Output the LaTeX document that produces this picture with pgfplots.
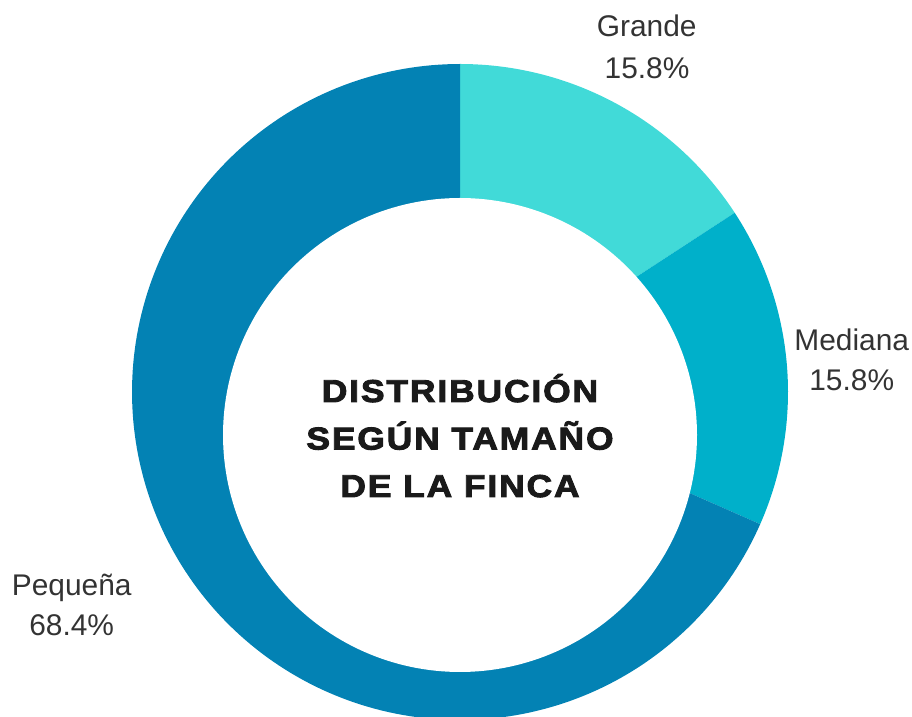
\documentclass[border=0pt]{standalone}
\usepackage{pgfplots}
\pgfplotsset{compat=1.18}
\usepackage{pgfplotstable}
\usepackage{fontspec}
\setmainfont{Liberation Sans}
\newfontfamily\titlefont{Liberation Sans Bold}[LetterSpace=6,FakeBold=3,FakeStretch=1.12]
\definecolor{cG}{HTML}{41DAD8}
\definecolor{cM}{HTML}{00B0CA}
\definecolor{cP}{HTML}{0382B4}
\definecolor{txt}{HTML}{333333}
\definecolor{ttl}{HTML}{1A1A1A}
\pgfplotstableread{
name value
Grande 15.8
Mediana 15.8
Pequena 68.4
}\slicedata
\pgfplotstablegetelem{0}{value}\of\slicedata \pgfmathsetmacro\vA{\pgfplotsretval}
\pgfplotstablegetelem{1}{value}\of\slicedata \pgfmathsetmacro\vB{\pgfplotsretval}
\pgfplotstablegetelem{2}{value}\of\slicedata \pgfmathsetmacro\vC{\pgfplotsretval}
\pgfmathsetmacro\sA{90}
\pgfmathsetmacro\eA{\sA-3.6*\vA}
\pgfmathsetmacro\eB{\eA-3.6*\vB}
\pgfmathsetmacro\eC{\eB-3.6*\vC}
\begin{document}
\begin{tikzpicture}
\begin{axis}[hide axis, scale only axis, width=912bp, height=717bp,
  xmin=0, xmax=912, ymin=0, ymax=717, clip=true]
\addplot[fill=cG, draw=none, variable=\t, samples at={0,1,...,101}]
  ({\t>100.5 ? 460 : 460+328*cos(\sA+(\eA-\sA)*\t/100)},
   {\t>100.5 ? 325 : 325+328*sin(\sA+(\eA-\sA)*\t/100)});
\addplot[fill=cM, draw=none, variable=\t, samples at={0,1,...,101}]
  ({\t>100.5 ? 460 : 460+328*cos(\eA+(\eB-\eA)*\t/100)},
   {\t>100.5 ? 325 : 325+328*sin(\eA+(\eB-\eA)*\t/100)});
\addplot[fill=cP, draw=none, variable=\t, samples at={0,1,...,201}]
  ({\t>200.5 ? 460 : 460+328*cos(\eB+(\eC-\eB)*\t/200)},
   {\t>200.5 ? 325 : 325+328*sin(\eB+(\eC-\eB)*\t/200)});
\addplot[fill=white, draw=none, variable=\t, domain=0:360, samples=241]
  ({460+237*cos(\t)},{282+237*sin(\t)});
\node[anchor=base, font=\fontsize{30}{35}\selectfont, text=txt] at (axis cs:646.7,680.3) {Grande};
\node[anchor=base, font=\fontsize{30}{35}\selectfont, text=txt] at (axis cs:647,638) {15.8\%};
\node[anchor=base, font=\fontsize{30}{35}\selectfont, text=txt] at (axis cs:851.7,366.3) {Mediana};
\node[anchor=base, font=\fontsize{30}{35}\selectfont, text=txt] at (axis cs:851.7,326) {15.8\%};
\node[anchor=base, font=\fontsize{30}{35}\selectfont, text=txt] at (axis cs:71.7,121) {Pequeña};
\node[anchor=base, font=\fontsize{30}{35}\selectfont, text=txt] at (axis cs:71.7,81) {68.4\%};
\node[anchor=base, font=\titlefont\fontsize{31.7}{48}\selectfont, text=ttl] at (axis cs:460,315) {DISTRIBUCIÓN};
\node[anchor=base, font=\titlefont\fontsize{31.7}{48}\selectfont, text=ttl] at (axis cs:460,267.5) {SEGÚN TAMAÑO};
\node[anchor=base, font=\titlefont\fontsize{31.7}{48}\selectfont, text=ttl] at (axis cs:460,220) {DE LA FINCA};
\end{axis}
\pgfresetboundingbox
\path[use as bounding box] (current axis.south west) rectangle (current axis.north east);
\end{tikzpicture}
\end{document}
